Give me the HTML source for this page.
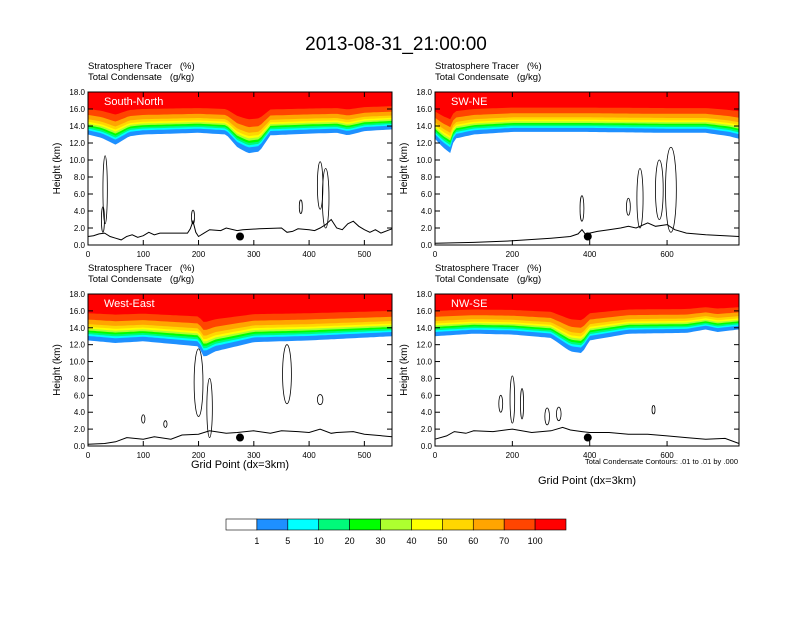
<!DOCTYPE html>
<html><head><meta charset="utf-8"><style>
body{margin:0;background:#fff}
svg{font-family:"Liberation Sans",sans-serif}
</style></head><body>
<svg id="c" width="792" height="612" viewBox="0 0 792 612" xmlns="http://www.w3.org/2000/svg">
<text x="396" y="50" font-size="19" text-anchor="middle">2013-08-31_21:00:00</text>
</svg>
<script>
const levelColors=["#ffffff","#1e90ff","#00ffff","#00fa7a","#00ff00","#adff2f","#ffff00","#ffd700","#ffa500","#ff4500","#ff0000"];
const levelLabels=["1","5","10","20","30","40","50","60","70","100"];
const levelOffsets=[0,0.5,0.7,0.9,1.1,1.3,1.5,1.8,2.3,3.0];

const p1X=[0,25,50,75,100,150,200,250,270,290,310,330,400,450,470,500,550];
const p1Base=[13.0,12.6,11.8,12.8,13.0,13.1,13.2,13.0,11.5,10.8,11.0,12.9,13.1,13.2,12.9,13.4,13.6];
const p1TX=[0,10,20,30,40,50,60,70,80,90,100,110,120,130,180,185,190,195,200,210,220,240,250,270,280,310,350,360,370,380,400,410,420,430,440,450,460,470,480,490,500,510,520,530,550];
const p1T=[1.0,1.1,1.3,1.4,1.0,0.8,0.6,1.0,1.2,0.9,1.1,1.5,1.2,1.4,1.4,1.9,2.8,1.5,1.0,1.4,1.8,1.7,2.0,1.7,1.8,1.9,2.0,1.5,1.6,1.9,1.8,1.7,2.0,2.4,3.0,2.0,1.8,2.5,2.8,2.2,1.8,1.5,1.8,1.4,1.9];

const p2X=[0,20,40,50,100,200,400,600,700,760,786];
const p2Base=[12.5,11.5,10.8,12.5,13.0,13.3,13.3,13.2,13.2,12.8,12.5];
const p2TX=[0,100,200,300,350,370,380,390,400,420,450,480,500,520,550,570,600,620,650,700,786];
const p2T=[0.2,0.3,0.5,0.8,1.0,1.3,1.8,1.2,1.4,1.6,1.8,2.0,2.2,2.0,2.6,2.2,2.4,1.8,1.4,1.2,1.0];

const p3X=[0,50,100,200,210,230,300,400,550];
const p3Base=[12.5,12.2,12.4,11.8,10.5,11.2,12.3,12.5,13.0];
const p3TX=[0,30,50,70,100,120,150,170,200,220,250,270,300,330,350,380,400,420,440,450,480,500,550];
const p3T=[0.2,0.3,0.5,1.0,0.8,1.1,0.8,1.3,1.4,1.8,1.5,1.6,1.8,1.5,1.8,1.7,1.6,2.0,1.5,1.6,1.7,1.4,1.1];

const p4X=[0,100,200,300,350,380,400,500,650,700,730,786];
const p4Base=[13.0,13.3,13.2,12.8,11.2,11.0,12.5,13.3,13.4,13.8,13.5,13.8];
const p4TX=[0,30,50,80,100,150,200,250,300,330,350,380,400,450,500,550,600,650,700,750,786];
const p4T=[0.8,1.2,1.7,1.5,1.8,1.7,2.0,1.6,1.8,2.2,1.9,1.7,1.6,1.6,1.4,1.4,1.2,1.0,0.8,0.9,0.3];

// contour blobs: [x, yCenter(km), halfWidth(grid), halfHeight(km)]
const p1Cont=[[31,6.5,4,4.0],[27,3.0,2,1.5],[190,3.3,2,0.8],[420,7,5,2.8],[430,5.5,6,3.5],[385,4.5,2,0.8]];
const p2Cont=[[380,4.3,5,1.5],[530,5.5,8,3.5],[580,6.5,10,3.5],[610,6.5,14,5.0],[500,4.5,5,1.0]];
const p3Cont=[[200,7.5,8,4.0],[220,4.5,5,3.5],[360,8.5,8,3.5],[420,5.5,5,0.6],[100,3.2,3,0.5],[140,2.6,3,0.4]];
const p4Cont=[[170,5.0,5,1.0],[200,5.5,6,2.8],[225,5.0,4,1.8],[290,3.5,6,1.0],[320,3.8,6,0.8],[565,4.3,3,0.5]];

const panels=[
 {name:"south-north",label:"South-North",L:88,T:92,W:304,H:153,xmax:550,xt:[0,100,200,300,400,500],X:p1X,B:p1Base,TX:p1TX,TT:p1T,C:p1Cont,dot:275,xlab:false},
 {name:"sw-ne",label:"SW-NE",L:435,T:92,W:304,H:153,xmax:786,xt:[0,200,400,600],X:p2X,B:p2Base,TX:p2TX,TT:p2T,C:p2Cont,dot:395,xlab:false},
 {name:"west-east",label:"West-East",L:88,T:294,W:304,H:152,xmax:550,xt:[0,100,200,300,400,500],X:p3X,B:p3Base,TX:p3TX,TT:p3T,C:p3Cont,dot:275,xlab:true},
 {name:"nw-se",label:"NW-SE",L:435,T:294,W:304,H:152,xmax:786,xt:[0,200,400,600],X:p4X,B:p4Base,TX:p4TX,TT:p4T,C:p4Cont,dot:395,xlab:true}
];
const svg=document.getElementById('c');
const NS="http://www.w3.org/2000/svg";
function mk(t,a,p){const e=document.createElementNS(NS,t);for(const k in a)e.setAttribute(k,a[k]);(p||svg).appendChild(e);return e;}
function interp(xs,ys,x){for(let i=0;i<xs.length-1;i++){if(x<=xs[i+1]){const f=(x-xs[i])/(xs[i+1]-xs[i]);return ys[i]+f*(ys[i+1]-ys[i]);}}return ys[ys.length-1];}

panels.forEach(p=>{
 const g=mk('g',{});
 
 
 const sx=v=>p.L+v/p.xmax*p.W, sy=v=>p.T+p.H-v/18*p.H;
 for(let k=0;k<levelOffsets.length;k++){
  let d="M"+sx(0)+","+p.T;
  for(let s=0;s<=100;s++){const xv=s/100*p.xmax;const b=interp(p.X,p.B,xv);const off=levelOffsets[k];const lv=b+off+(13-b)*Math.min(1,off/4)*0.6;d+=" L"+sx(xv).toFixed(1)+","+sy(Math.min(18,lv)).toFixed(1);}
  d+=" L"+sx(p.xmax)+","+p.T+"Z";
  const band=mk('path',{d:d,fill:levelColors[k+1]},g);
  
  
 }
 p.C.forEach(c=>{
  const e=mk('ellipse',{cx:sx(c[0]),cy:sy(c[1]),rx:Math.max(1.5,c[2]/p.xmax*p.W),ry:c[3]/18*p.H,fill:"none",stroke:"#000","stroke-width":0.8},g);
  
  
 });
 let pts=p.TX.map((x,i)=>sx(x).toFixed(1)+","+sy(p.TT[i]).toFixed(1)).join(" ");
 const tl=mk('polyline',{points:pts,fill:"none",stroke:"#000","stroke-width":1},g);
 
 
 const dot=mk('circle',{cx:sx(p.dot),cy:sy(1.0),r:4,fill:"#000"},g);
 
 
 const fr=mk('rect',{x:p.L,y:p.T,width:p.W,height:p.H,fill:"none",stroke:"#000","stroke-width":1},g);
 
 
 for(let v=0;v<=18;v+=2){
  mk('line',{x1:p.L,x2:p.L+5,y1:sy(v),y2:sy(v),stroke:"#000"},g);
  mk('line',{x1:p.L+p.W,x2:p.L+p.W-5,y1:sy(v),y2:sy(v),stroke:"#000"},g);
  const t=mk('text',{x:p.L-3,y:sy(v)+3,"font-size":8,"text-anchor":"end"},g);t.textContent=v.toFixed(1);
  
  
 }
 p.xt.forEach(v=>{
  mk('line',{x1:sx(v),x2:sx(v),y1:p.T+p.H,y2:p.T+p.H-5,stroke:"#000"},g);
  mk('line',{x1:sx(v),x2:sx(v),y1:p.T,y2:p.T+5,stroke:"#000"},g);
  const t=mk('text',{x:sx(v),y:p.T+p.H+12,"font-size":8,"text-anchor":"middle"},g);t.textContent=v;
  
  
 });
 const yl=mk('text',{x:0,y:0,"font-size":10,"text-anchor":"middle",transform:`translate(${p.L-28},${p.T+p.H/2}) rotate(-90)`},g);
 yl.textContent="Height (km)";
 
 
 const t1=mk('text',{x:p.L,y:p.T-23,"font-size":9.5},g);t1.textContent="Stratosphere Tracer\u00a0\u00a0\u00a0(%)";
 
 
 const t2=mk('text',{x:p.L,y:p.T-12,"font-size":9.5},g);t2.textContent="Total Condensate\u00a0\u00a0\u00a0(g/kg)";
 
 
 const pl=mk('text',{x:p.L+16,y:p.T+13,"font-size":11,fill:"#fff"},g);pl.textContent=p.label;
 
 
 if(p.xlab){
  const xl=mk('text',{x:p.L+p.W/2,y:p.T+p.H+(p.name==="nw-se"?38:22),"font-size":11,"text-anchor":"middle"},g);xl.textContent="Grid Point (dx=3km)";
  
  
 }
});
const cn=mk('text',{x:738,y:464,"font-size":7.5,"text-anchor":"end"});cn.textContent="Total Condensate Contours: .01 to .01 by .000";


const cb=mk('g',{});


const bw=340/levelColors.length;
levelColors.forEach((c,i)=>{
 const r=mk('rect',{x:226+i*bw,y:519,width:bw,height:11,fill:c,stroke:"#000","stroke-width":0.6},cb);
 
 
});
levelLabels.forEach((l,i)=>{
 const t=mk('text',{x:226+(i+1)*bw,y:544,"font-size":9,"text-anchor":"middle"},cb);t.textContent=l;
 
 
});
</script>
</body></html>
